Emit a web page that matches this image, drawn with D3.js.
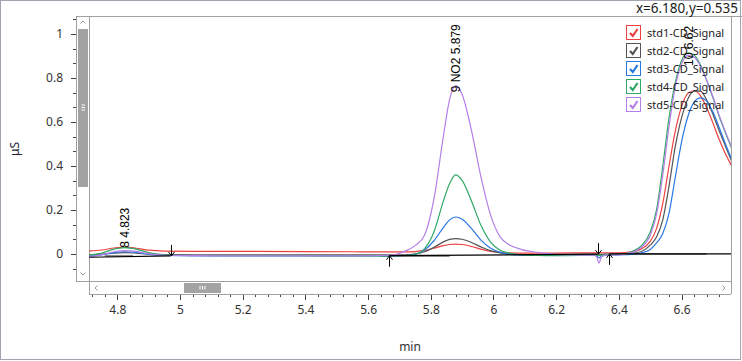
<!DOCTYPE html>
<html><head><meta charset="utf-8">
<script src="https://cdn.jsdelivr.net/npm/d3@7"></script>
<style>
html,body{margin:0;padding:0;background:#fff;}
svg{display:block;}
text{font-family:"Noto Sans","Open Sans",sans-serif;}
</style></head>
<body>
<svg id="chart" width="742" height="361"></svg>
<script>
// ---------- data ----------
const times = [4.71, 4.75, 4.79, 4.823, 4.86, 4.90, 4.95, 5.05, 5.2, 5.4, 5.55, 5.67,
  5.72, 5.75, 5.78, 5.81, 5.84, 5.86, 5.879, 5.90, 5.93, 5.96, 5.99, 6.02, 6.05, 6.09, 6.14, 6.2,
  6.28, 6.32, 6.33, 6.336, 6.345, 6.36,
  6.40, 6.44, 6.47, 6.50, 6.52, 6.54, 6.56, 6.58, 6.60, 6.62, 6.64, 6.66, 6.68, 6.70, 6.72, 6.74, 6.76];

const std1 = [0.014, 0.018, 0.027, 0.031, 0.026, 0.017, 0.013, 0.012, 0.012, 0.011, 0.010, 0.009,
  0.009, 0.011, 0.016, 0.026, 0.038, 0.043, 0.045, 0.043, 0.034, 0.022, 0.012, 0.007, 0.005, 0.004, 0.004, 0.004,
  0.005, 0.005, 0.005, 0.004, 0.005, 0.005,
  0.005, 0.010, 0.022, 0.057, 0.115, 0.23, 0.40, 0.56, 0.67, 0.73, 0.742, 0.72, 0.665, 0.595, 0.52, 0.455, 0.40];
const std2 = [-0.004, -0.001, 0.004, 0.006, 0.004, 0.0, -0.003, -0.004, -0.004, -0.004, -0.004, -0.004,
  -0.004, 0.0, 0.01, 0.03, 0.055, 0.066, 0.070, 0.067, 0.052, 0.032, 0.015, 0.005, -0.001, -0.003, -0.003, -0.003,
  -0.002, -0.002, -0.003, -0.004, -0.002, -0.001,
  0.0, 0.003, 0.010, 0.040, 0.077, 0.155, 0.31, 0.49, 0.62, 0.705, 0.74, 0.74, 0.70, 0.635, 0.56, 0.49, 0.42];
const std3 = [-0.010, -0.004, 0.006, 0.010, 0.007, -0.002, -0.007, -0.009, -0.009, -0.009, -0.009, -0.009,
  -0.007, -0.002, 0.018, 0.06, 0.12, 0.155, 0.168, 0.158, 0.115, 0.063, 0.027, 0.008, -0.002, -0.006, -0.007, -0.007,
  -0.006, -0.006, -0.010, -0.018, -0.010, -0.005,
  -0.004, -0.002, 0.004, 0.020, 0.050, 0.093, 0.186, 0.35, 0.51, 0.625, 0.69, 0.71, 0.695, 0.645, 0.575, 0.50, 0.43];
const std4 = [-0.006, 0.004, 0.022, 0.029, 0.022, 0.006, -0.004, -0.007, -0.008, -0.008, -0.009, -0.009,
  -0.007, -0.002, 0.024, 0.10, 0.24, 0.32, 0.36, 0.335, 0.24, 0.13, 0.055, 0.018, 0.004, -0.004, -0.007, -0.008,
  -0.007, -0.006, -0.006, -0.007, -0.006, -0.004,
  -0.002, 0.010, 0.035, 0.10, 0.20, 0.40, 0.62, 0.78, 0.88, 0.915, 0.905, 0.86, 0.79, 0.71, 0.625, 0.55, 0.48];
const std5 = [-0.012, -0.003, 0.010, 0.015, 0.012, 0.0, -0.006, -0.008, -0.009, -0.009, -0.009, -0.006,
  0.014, 0.038, 0.085, 0.25, 0.534, 0.703, 0.765, 0.725, 0.56, 0.35, 0.18, 0.08, 0.042, 0.02, 0.007, -0.002,
  -0.005, -0.006, -0.015, -0.042, -0.012, -0.005,
  -0.004, 0.006, 0.028, 0.085, 0.18, 0.36, 0.58, 0.76, 0.865, 0.903, 0.895, 0.855, 0.79, 0.715, 0.63, 0.555, 0.485];

const seriesNames = ["std1-CD_Signal", "std2-CD_Signal", "std3-CD_Signal", "std4-CD_Signal", "std5-CD_Signal"];
const seriesValues = [std1, std2, std3, std4, std5];
const seriesColors = ["#ee4040", "#555555", "#2a78e4", "#30a865", "#b47fe8"];

// integration baselines: [t1, v1, t2, v2]
const baseSegs = [[4.71, -0.015, 4.97, -0.009], [5.667, -0.008, 6.332, -0.001], [6.37, 0.0, 6.76, 0.0]];
const graySegs = [[4.76, -0.009, 4.85, -0.009], [5.64, -0.009, 5.86, -0.009], [6.42, 0.0, 6.68, 0.0]];
// boundary markers: time, value, direction
const markerTimes = [4.97, 5.667, 6.332, 6.37];
const markerValues = [-0.009, -0.008, -0.001, 0.0];
const markerDirs = ["down", "up", "down", "up"];

// peak labels
const peakLabels = ["8 4.823", "9 NO2 5.879", "10 6.62"];
const peakTimes = [4.823, 5.879, 6.622];
const peakLabelValues = [0.028, 0.735, 0.855];

const xTickValues = [4.8, 5.0, 5.2, 5.4, 5.6, 5.8, 6.0, 6.2, 6.4, 6.6];
const yTickValues = [0, 0.2, 0.4, 0.6, 0.8, 1.0];
const xTitle = "min";
const yTitle = "μS";
const cursorText = "x=6.180,y=0.535";

// ---------- layout ----------
const svg = d3.select("#chart");
const L = 89, R = 731, T = 16, B = 281, AX = 76, XA = 294;
const x = d3.scaleLinear().domain([4.7097, 6.7576]).range([L, R]);
const y = d3.scaleLinear().domain([1.082, -0.123]).range([T, B]);
const frame = "#a0a0a0";

// outer border
svg.append("rect").attr("x", 0.5).attr("y", 0.5).attr("width", 740).attr("height", 359)
  .attr("fill", "none").attr("stroke", "#a4a4b0");

// clip
svg.append("defs").append("clipPath").attr("id", "clip")
  .append("rect").attr("x", L).attr("y", T).attr("width", R - L).attr("height", B - T);

// frame lines
const fl = svg.append("g").attr("stroke", frame).attr("fill", "none").attr("shape-rendering", "crispEdges");
fl.append("line").attr("x1", AX).attr("x2", 742).attr("y1", T + 0.5).attr("y2", T + 0.5);
fl.append("line").attr("x1", AX + 0.5).attr("x2", AX + 0.5).attr("y1", T).attr("y2", B);
fl.append("line").attr("x1", AX).attr("x2", R).attr("y1", B + 0.5).attr("y2", B + 0.5);
fl.append("line").attr("x1", L + 0.5).attr("x2", L + 0.5).attr("y1", T).attr("y2", XA);
fl.append("line").attr("x1", R + 0.5).attr("x2", R + 0.5).attr("y1", T).attr("y2", XA);

// vertical scrollbar
svg.append("rect").attr("x", 78).attr("y", 29).attr("width", 10).attr("height", 158).attr("fill", "#a3a3a3");
[105, 107.5, 110].forEach(v => svg.append("line").attr("x1", 81.5).attr("x2", 85).attr("y1", v).attr("y2", v)
  .attr("stroke", "#fff").attr("stroke-width", 1));
svg.append("path").attr("d", "M80.5,23.5 L83,21 L85.5,23.5").attr("fill", "none").attr("stroke", "#999");
svg.append("path").attr("d", "M80.5,272.5 L83,275 L85.5,272.5").attr("fill", "none").attr("stroke", "#999");
// horizontal scrollbar
svg.append("rect").attr("x", 184).attr("y", 283).attr("width", 37).attr("height", 10).attr("fill", "#a3a3a3");
[200, 202.5, 205].forEach(v => svg.append("line").attr("x1", v).attr("x2", v).attr("y1", 286).attr("y2", 289.5)
  .attr("stroke", "#fff").attr("stroke-width", 1));
svg.append("path").attr("d", "M97.5,285.5 L95,288 L97.5,290.5").attr("fill", "none").attr("stroke", "#999");
svg.append("path").attr("d", "M722.5,285.5 L725,288 L722.5,290.5").attr("fill", "none").attr("stroke", "#999");

// axes
const tickColor = "#444";
const xMinor = d3.range(4.72, 6.76, 0.04).filter(v => xTickValues.every(t => Math.abs(t - v) > 1e-6));
const xa = svg.append("g").attr("transform", `translate(0,${XA})`)
  .call(d3.axisBottom(x).tickValues(xTickValues).tickSize(6).tickPadding(5).tickFormat(d3.format("")));
const xm = svg.append("g").attr("transform", `translate(0,${XA})`)
  .call(d3.axisBottom(x).tickValues(xMinor).tickSize(3).tickFormat(""));
const yMinor = d3.range(-2, 17).map(i => i / 15).filter(v => v > -0.123 && v < 1.08 && yTickValues.every(t => Math.abs(t - v) > 1e-6));
const ya = svg.append("g").attr("transform", `translate(${AX},0)`)
  .call(d3.axisLeft(y).tickValues(yTickValues).tickSize(5).tickPadding(8).tickFormat(d3.format("")));
const ym = svg.append("g").attr("transform", `translate(${AX},0)`)
  .call(d3.axisLeft(y).tickValues(yMinor).tickSize(3).tickFormat(""));
[xa, xm, ya, ym].forEach(g => {
  g.select(".domain").remove();
  g.selectAll(".tick line").attr("stroke", tickColor).attr("shape-rendering", "crispEdges");
  g.selectAll(".tick text").attr("fill", "#333").style("font-size", "12px").style("font-family", '"Noto Sans",sans-serif');
});
svg.append("line").attr("x1", L).attr("x2", R).attr("y1", XA + 0.5).attr("y2", XA + 0.5)
  .attr("stroke", frame).attr("shape-rendering", "crispEdges");

svg.append("text").attr("x", (L + R) / 2).attr("y", 351).attr("text-anchor", "middle")
  .attr("fill", "#333").style("font-size", "12px").text(xTitle);
svg.append("text").attr("transform", "translate(19,149) rotate(-90)").attr("text-anchor", "middle")
  .attr("fill", "#223").style("font-size", "12px").text(yTitle);
svg.append("text").attr("x", 738).attr("y", 13).attr("text-anchor", "end")
  .attr("fill", "#222").style("font-size", "13.5px").text(cursorText);

// plot content
const plot = svg.append("g").attr("clip-path", "url(#clip)");
const line = d3.line().x(d => x(d[0])).y(d => y(d[1])).curve(d3.curveMonotoneX);

graySegs.forEach(s => plot.append("line").attr("x1", x(s[0])).attr("y1", y(s[1])).attr("x2", x(s[2])).attr("y2", y(s[3]))
  .attr("stroke", "#8c8c8c").attr("stroke-width", 2));

seriesValues.forEach((vals, i) => {
  plot.append("path").datum(times.map((t, j) => [t, vals[j]]))
    .attr("d", line).attr("fill", "none").attr("stroke", seriesColors[i]).attr("stroke-width", 1.2);
});

baseSegs.forEach(s => plot.append("line").attr("x1", x(s[0])).attr("y1", y(s[1])).attr("x2", x(s[2])).attr("y2", y(s[3]))
  .attr("stroke", "#000").attr("stroke-width", 1.2));
markerTimes.forEach((t, i) => {
  const mx = Math.round(x(t)) + 0.5, my = y(markerValues[i]);
  let d;
  if (markerDirs[i] === "down") d = `M${mx},${my - 11} L${mx},${my} M${mx - 3},${my - 4} L${mx},${my} L${mx + 3},${my - 4}`;
  else d = `M${mx},${my + 11} L${mx},${my} M${mx - 3},${my + 4} L${mx},${my} L${mx + 3},${my + 4}`;
  plot.append("path").attr("d", d).attr("fill", "none").attr("stroke", "#000").attr("stroke-width", 1);
});

// peak labels
peakLabels.forEach((lab, i) => {
  svg.append("text").attr("transform", `translate(${x(peakTimes[i]) + 4.5},${y(peakLabelValues[i])}) rotate(-90)`)
    .attr("fill", "#000").style("font-family", '"Liberation Sans",Arial,sans-serif').style("font-size", "12px")
    .text(lab);
});

// legend
const lg = svg.append("g");
seriesNames.forEach((n, i) => {
  const cy = 33 + i * 18;
  const c = seriesColors[i];
  lg.append("rect").attr("x", 626.5).attr("y", cy - 7.5).attr("width", 14).attr("height", 14)
    .attr("fill", "#fff").attr("stroke", c).attr("stroke-width", 1);
  lg.append("path").attr("d", `M630,${cy} L632.8,${cy + 3} L637.5,${cy - 4}`)
    .attr("fill", "none").attr("stroke", c).attr("stroke-width", 2.2);
  lg.append("text").attr("x", 647).attr("y", cy + 4).attr("fill", "#222").style("font-size", "11px").text(n);
});
</script>
</body></html>
